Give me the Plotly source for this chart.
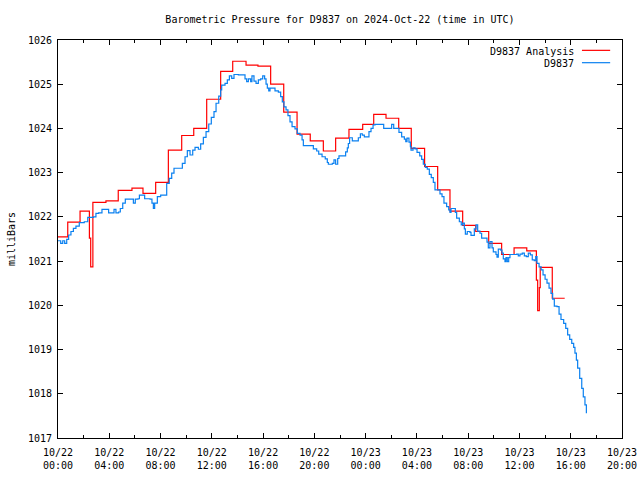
import pandas as pd
import plotly.graph_objects as go

BASE = "2024-10-22 00:00"

# Analysis series (hours after 2024-10-22 00:00 UTC, millibars) - stepped
analysis_hours = [0.0, 0.76, 1.72, 2.45, 2.55, 2.72, 3.74, 4.70, 5.77, 6.63, 7.62,
                  8.61, 9.65, 10.59, 11.60, 12.69, 13.63, 14.67, 15.60, 16.59, 17.61,
                  18.65, 19.68, 20.70, 21.66, 22.70, 23.77, 24.63, 25.59, 26.58, 27.56,
                  28.60, 29.62, 30.58, 31.57, 32.59, 33.60, 34.61, 35.58, 36.57, 37.32,
                  37.42, 37.55, 37.62, 38.56, 39.53]
analysis_vals = [1021.55, 1021.88, 1022.13, 1021.52, 1020.87, 1022.33, 1022.36, 1022.60,
                 1022.65, 1022.53, 1022.78, 1023.51, 1023.84, 1024.00, 1024.66, 1025.29,
                 1025.52, 1025.43, 1025.41, 1025.00, 1024.37, 1023.87, 1023.72, 1023.49,
                 1023.78, 1023.98, 1024.09, 1024.32, 1024.23, 1024.00, 1023.55, 1023.14,
                 1022.61, 1022.13, 1021.81, 1021.67, 1021.40, 1021.15, 1021.30, 1021.23,
                 1020.57, 1019.88, 1020.40, 1020.86, 1020.16, 1020.16]

# Station observations
obs_hours = [0.00, 0.21, 0.37, 0.52, 0.68, 0.83, 1.01, 1.20, 1.40, 1.66, 2.05, 2.32, 2.76,
             2.96, 3.17, 3.43, 3.74, 3.95, 4.21, 4.37, 4.52, 4.73, 4.86, 5.05, 5.25, 5.77,
             5.88, 6.03, 6.24, 6.35, 6.61, 6.76, 7.18, 7.33, 7.44, 7.54, 7.75, 8.01, 8.35,
             8.48, 8.68, 8.87, 9.05, 9.52, 9.70, 9.91, 10.09, 10.30, 10.51, 10.69, 10.95,
             11.13, 11.34, 11.55, 11.76, 11.96, 12.17, 12.33, 12.54, 12.69, 12.77, 13.03,
             13.21, 13.37, 13.55, 13.73, 14.07, 14.41, 14.59, 14.72, 14.85, 15.03, 15.13,
             15.29, 15.45, 15.63, 15.81, 15.97, 16.12, 16.23, 16.33, 16.44, 16.54, 16.75,
             16.93, 17.19, 17.37, 17.50, 17.63, 17.79, 17.94, 18.10, 18.26, 18.49, 18.67,
             18.88, 19.04, 19.14, 19.66, 19.92, 20.18, 20.34, 20.60, 20.85, 21.01, 21.09,
             21.25, 21.40, 21.53, 21.66, 21.82, 21.92, 22.26, 22.44, 22.57, 22.65, 22.75,
             22.96, 23.30, 23.43, 23.59, 23.74, 23.90, 24.11, 24.26, 24.42, 24.58, 24.73,
             25.25, 25.41, 25.90, 26.03, 26.19, 26.45, 26.60, 26.81, 27.02, 27.13, 27.23,
             27.38, 27.49, 27.54, 27.70, 27.85, 28.01, 28.22, 28.37, 28.50, 28.66, 28.81,
             28.97, 29.12, 29.28, 29.41, 29.67, 29.80, 29.96, 30.11, 30.32, 30.48, 30.58,
             30.66, 30.89, 31.00, 31.10, 31.31, 31.46, 31.57, 31.70, 31.78, 31.93, 32.14,
             32.22, 32.35, 32.48, 32.61, 32.74, 32.92, 33.05, 33.34, 33.47, 33.57, 33.70,
             33.86, 33.96, 34.17, 34.25, 34.35, 34.54, 34.64, 34.74, 34.87, 34.95, 35.05,
             35.16, 35.26, 35.52, 35.63, 35.79, 35.91, 36.04, 36.22, 36.38, 36.54, 36.69,
             36.85, 37.00, 37.16, 37.27, 37.37, 37.53, 37.69, 37.84, 38.00, 38.15, 38.31,
             38.46, 38.59, 38.72, 38.93, 39.09, 39.24, 39.45, 39.61, 39.76, 39.92, 40.08,
             40.23, 40.33, 40.44, 40.54, 40.70, 40.86, 40.98, 41.11, 41.22]
obs_vals = [1021.46, 1021.40, 1021.46, 1021.40, 1021.49, 1021.59, 1021.67, 1021.74, 1021.79,
            1021.87, 1021.89, 1021.99, 1022.00, 1022.08, 1022.09, 1022.17, 1022.17, 1022.09,
            1022.09, 1022.17, 1022.09, 1022.11, 1022.19, 1022.31, 1022.40, 1022.40, 1022.31,
            1022.40, 1022.41, 1022.49, 1022.49, 1022.41, 1022.40, 1022.31, 1022.19, 1022.31,
            1022.46, 1022.49, 1022.49, 1022.76, 1022.87, 1022.99, 1023.10, 1023.10, 1023.21,
            1023.36, 1023.50, 1023.40, 1023.51, 1023.57, 1023.53, 1023.65, 1023.80, 1023.93,
            1024.10, 1024.25, 1024.38, 1024.57, 1024.73, 1024.87, 1024.98, 1025.02, 1025.10,
            1025.19, 1025.13, 1025.22, 1025.21, 1025.21, 1025.12, 1025.06, 1025.12, 1025.06,
            1025.19, 1025.07, 1025.02, 1025.10, 1025.12, 1025.19, 1025.12, 1025.00, 1024.91,
            1024.85, 1024.91, 1024.91, 1024.85, 1024.82, 1024.72, 1024.60, 1024.49, 1024.42,
            1024.29, 1024.15, 1024.04, 1023.99, 1023.89, 1023.85, 1023.74, 1023.61, 1023.61,
            1023.54, 1023.49, 1023.42, 1023.36, 1023.31, 1023.23, 1023.19, 1023.19, 1023.21,
            1023.29, 1023.19, 1023.32, 1023.38, 1023.38, 1023.47, 1023.56, 1023.66, 1023.79,
            1023.72, 1023.72, 1023.79, 1023.88, 1023.85, 1023.81, 1023.81, 1023.93, 1024.00,
            1024.08, 1024.09, 1024.09, 1024.00, 1024.00, 1024.09, 1024.00, 1024.00, 1023.91,
            1023.81, 1023.76, 1023.70, 1023.78, 1023.69, 1023.59, 1023.51, 1023.56, 1023.54,
            1023.46, 1023.38, 1023.30, 1023.19, 1023.12, 1023.08, 1022.96, 1022.89, 1022.78,
            1022.61, 1022.61, 1022.52, 1022.46, 1022.31, 1022.23, 1022.16, 1022.10, 1022.19,
            1022.19, 1022.10, 1021.97, 1021.89, 1021.82, 1021.86, 1021.73, 1021.61, 1021.67,
            1021.65, 1021.58, 1021.58, 1021.73, 1021.82, 1021.68, 1021.63, 1021.52, 1021.52,
            1021.43, 1021.30, 1021.44, 1021.30, 1021.21, 1021.15, 1021.09, 1021.27, 1021.25,
            1021.18, 1021.05, 1020.99, 1021.08, 1020.99, 1021.08, 1021.15, 1021.15, 1021.15,
            1021.16, 1021.12, 1021.16, 1021.18, 1021.12, 1021.10, 1021.18, 1021.14, 1021.03,
            1021.01, 1021.10, 1020.95, 1020.87, 1020.80, 1020.69, 1020.59, 1020.50, 1020.39,
            1020.27, 1020.14, 1019.98, 1019.97, 1019.80, 1019.68, 1019.59, 1019.48, 1019.33,
            1019.23, 1019.14, 1019.05, 1018.92, 1018.76, 1018.58, 1018.35, 1018.12, 1017.93,
            1017.75, 1017.56]

series_names = ["D9837 Analysis", "D9837"]
series_colors = ["#ff0000", "#0a80f0"]
y_ticks = [1017, 1018, 1019, 1020, 1021, 1022, 1023, 1024, 1025, 1026]

base = pd.Timestamp(BASE)
ax_t = base + pd.to_timedelta(analysis_hours, unit="h")
ob_t = base + pd.to_timedelta(obs_hours, unit="h")

FONT = "DejaVu Sans Mono"

fig = go.Figure()
fig.add_trace(go.Scatter(x=ax_t, y=analysis_vals, mode="lines", name=series_names[0],
                         line=dict(color=series_colors[0], width=1.2, shape="hv")))
fig.add_trace(go.Scatter(x=ob_t, y=obs_vals, mode="lines", name=series_names[1],
                         line=dict(color=series_colors[1], width=1.2, shape="hv")))

# gnuplot-style legend: text right-aligned, line sample to the right
leg_y = [0.972, 0.941]
for name, col, yy in zip(series_names, series_colors, leg_y):
    fig.add_annotation(x=0.918, y=yy, xref="paper", yref="paper", text=name,
                       showarrow=False, xanchor="right", yanchor="middle",
                       font=dict(family=FONT, size=10, color="black"))
    fig.add_shape(type="line", xref="paper", yref="paper", x0=0.929, x1=0.979,
                  y0=yy + 0.002, y1=yy + 0.002, line=dict(color=col, width=1.2))

fig.update_layout(
    width=640, height=480,
    margin=dict(l=58, r=18, t=40, b=42, autoexpand=False),
    paper_bgcolor="white", plot_bgcolor="white",
    showlegend=False,
    font=dict(family=FONT, size=10, color="black"),
    title=dict(text="Barometric Pressure for D9837 on 2024-Oct-22 (time in UTC)",
               x=0.5312, xanchor="center", y=0.96, yanchor="middle",
               font=dict(family=FONT, size=10, color="black")),
)
fig.update_xaxes(
    type="date", automargin=False,
    range=[base, base + pd.Timedelta(hours=44)],
    dtick=4 * 3600 * 1000, tick0=base,
    tickformat="%m/%d<br>%H:%M",
    ticks="inside", ticklen=5, tickcolor="black",
    ticklabelstandoff=5,
    minor=dict(dtick=2 * 3600 * 1000, ticks="inside", ticklen=3, tickcolor="black"),
    showline=True, linecolor="black", linewidth=1, mirror="allticks",
    showgrid=False, zeroline=False,
    tickfont=dict(family=FONT, size=10, color="black"),
)
fig.update_yaxes(
    range=[1017, 1026], automargin=False,
    tickvals=y_ticks, ticktext=[str(v) for v in y_ticks],
    ticks="inside", ticklen=5, tickcolor="black",
    ticklabelstandoff=3,
    showline=True, linecolor="black", linewidth=1, mirror="allticks",
    showgrid=False, zeroline=False,
    title=dict(text="milliBars", standoff=10, font=dict(family=FONT, size=10, color="black")),
    tickfont=dict(family=FONT, size=10, color="black"),
)

fig.write_html("out.html")
